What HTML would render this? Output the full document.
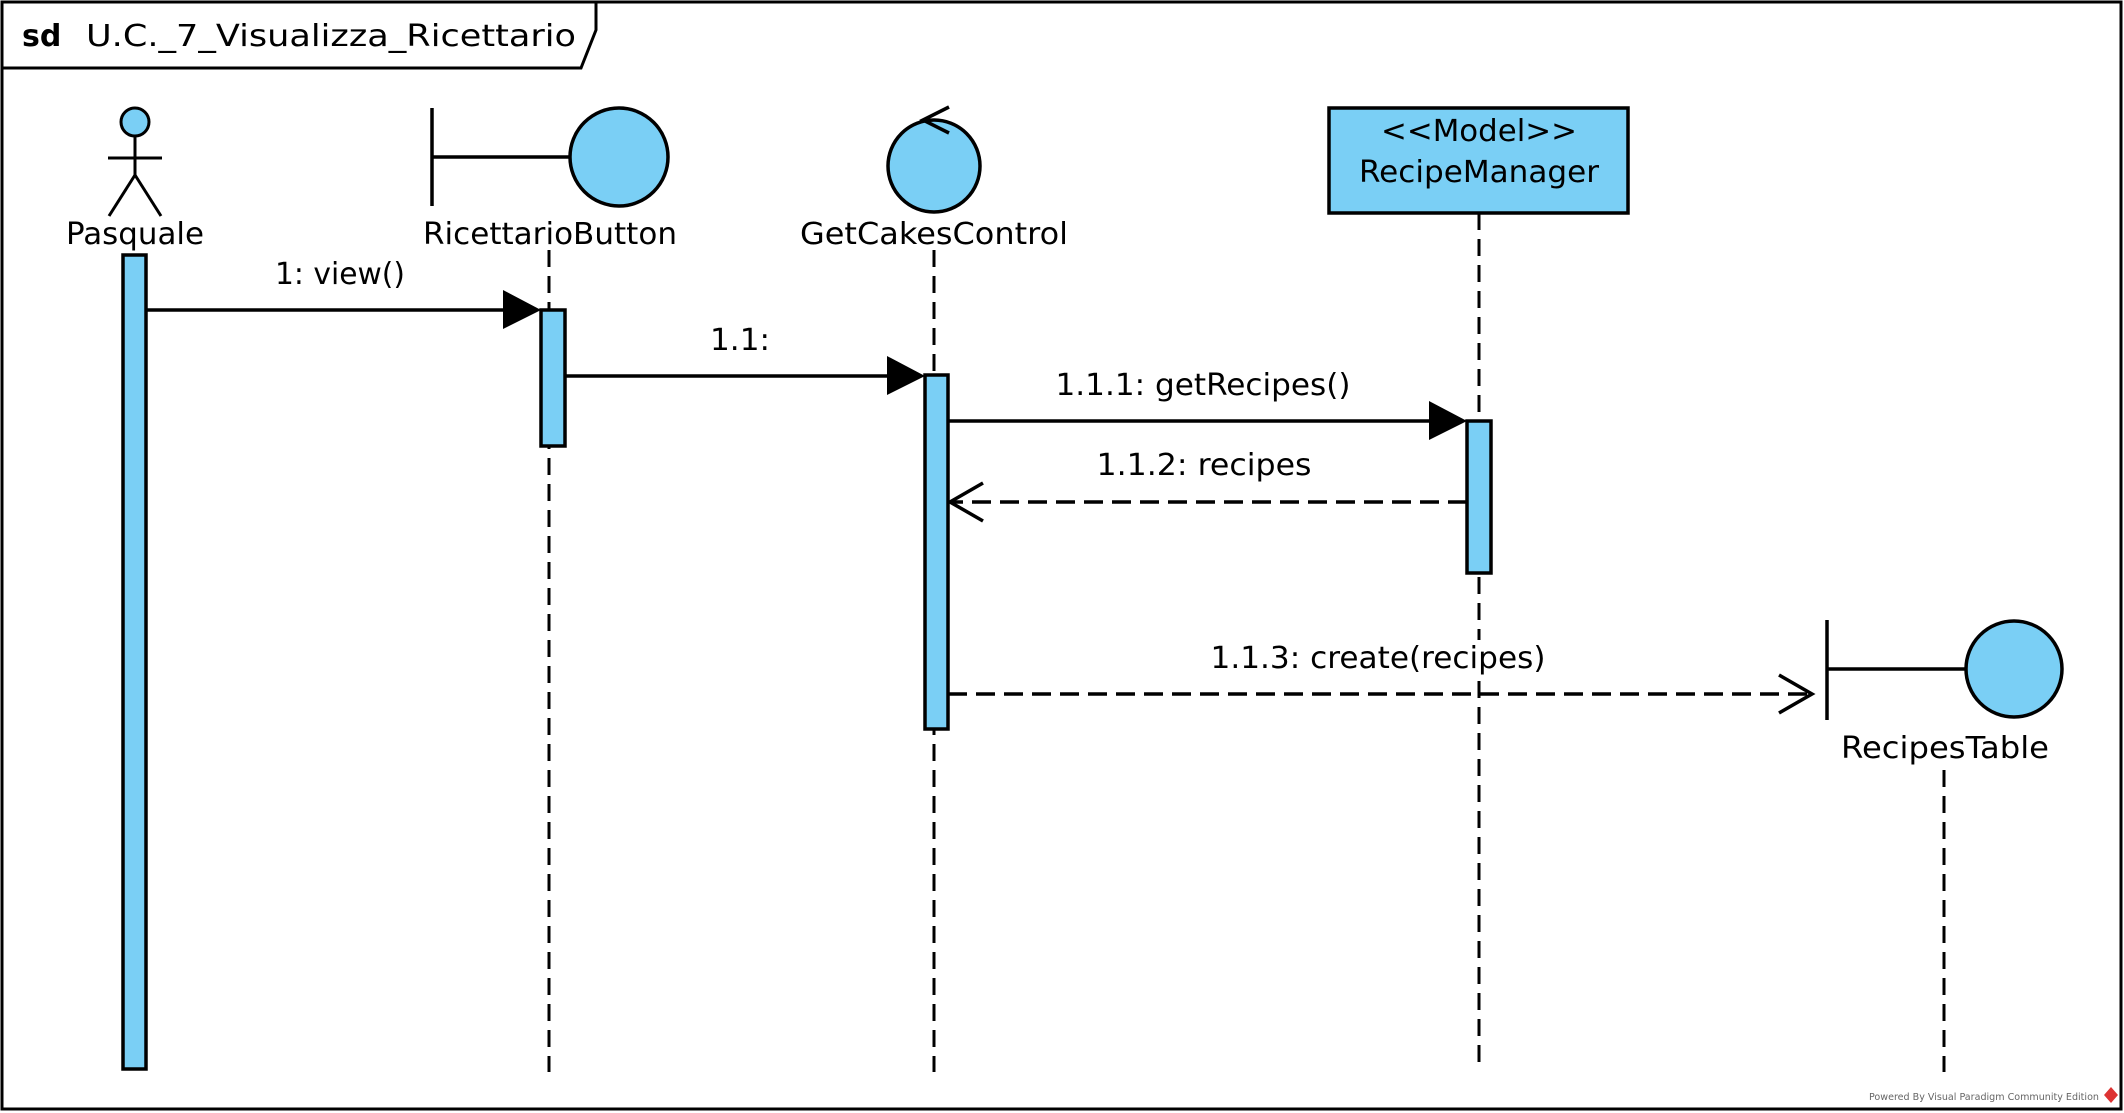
<!DOCTYPE html>
<html><head><meta charset="utf-8"><style>
html,body{margin:0;padding:0;background:#fff;}
svg{display:block;}
text{font-family:"DejaVu Sans","Liberation Sans",sans-serif;fill:#000;}
</style></head><body>
<svg width="2124" height="1113" viewBox="0 0 2124 1113" xmlns="http://www.w3.org/2000/svg">
<rect x="0" y="0" width="2124" height="1113" fill="#fff"/>
<rect x="2" y="2" width="2119" height="1107" fill="none" stroke="#000" stroke-width="3"/>
<path d="M2 68 L581 68 L596 30 L596 2" fill="none" stroke="#000" stroke-width="3"/>
<text x="22" y="46" font-size="30" font-weight="bold">sd</text>
<text x="86" y="46" font-size="30" textLength="490" lengthAdjust="spacingAndGlyphs">U.C._7_Visualizza_Ricettario</text>

<g stroke="#000" stroke-width="3" fill="none" stroke-dasharray="17,9">
<line x1="549" y1="250" x2="549" y2="1072"/>
<line x1="934" y1="250" x2="934" y2="1072"/>
<line x1="1479" y1="213" x2="1479" y2="1064"/>
<line x1="1944" y1="770" x2="1944" y2="1072"/>
</g>

<!-- actor -->
<g stroke="#000" stroke-width="3">
<ellipse cx="135" cy="122" rx="14" ry="14" fill="#7acff5"/>
<line x1="135" y1="136" x2="135" y2="175"/>
<line x1="108" y1="158" x2="162" y2="158"/>
<line x1="135" y1="175" x2="109" y2="216"/>
<line x1="135" y1="175" x2="161" y2="216"/>
</g>
<text x="135" y="244" font-size="30" text-anchor="middle" textLength="138" lengthAdjust="spacingAndGlyphs">Pasquale</text>

<!-- RicettarioButton -->
<g stroke="#000" stroke-width="3.5">
<line x1="432" y1="108" x2="432" y2="206"/>
<line x1="432" y1="157" x2="570" y2="157"/>
<circle cx="619" cy="157" r="49" fill="#7acff5"/>
</g>
<text x="550" y="244" font-size="30" text-anchor="middle" textLength="254" lengthAdjust="spacingAndGlyphs">RicettarioButton</text>

<!-- GetCakesControl -->
<g stroke="#000" stroke-width="3.5" fill="none">
<circle cx="934" cy="166" r="46" fill="#7acff5"/>
<polyline points="949,107 923,120 949,133"/>
</g>
<text x="934" y="244" font-size="30" text-anchor="middle" textLength="268" lengthAdjust="spacingAndGlyphs">GetCakesControl</text>

<!-- RecipeManager -->
<rect x="1329" y="108" width="299" height="105" fill="#7acff5" stroke="#000" stroke-width="3.5"/>
<text x="1479" y="141" font-size="30" text-anchor="middle" textLength="196" lengthAdjust="spacingAndGlyphs">&lt;&lt;Model&gt;&gt;</text>
<text x="1479" y="182" font-size="30" text-anchor="middle" textLength="240" lengthAdjust="spacingAndGlyphs">RecipeManager</text>

<!-- RecipesTable -->
<g stroke="#000" stroke-width="3.5">
<line x1="1827" y1="620" x2="1827" y2="720"/>
<line x1="1827" y1="669" x2="1966" y2="669"/>
<circle cx="2014" cy="669" r="48" fill="#7acff5"/>
</g>
<text x="1945" y="758" font-size="30" text-anchor="middle" textLength="208" lengthAdjust="spacingAndGlyphs">RecipesTable</text>

<!-- activations -->
<g fill="#7acff5" stroke="#000" stroke-width="3.5">
<rect x="123" y="255" width="23" height="814"/>
<rect x="541" y="310" width="24" height="136"/>
<rect x="925" y="375" width="23" height="354"/>
<rect x="1467" y="421" width="24" height="152"/>
</g>

<!-- messages -->
<g stroke="#000" stroke-width="3.5" fill="none">
<line x1="146" y1="310" x2="505" y2="310"/>
<line x1="565" y1="376" x2="890" y2="376"/>
<line x1="948" y1="421" x2="1432" y2="421"/>
<line x1="1467" y1="502" x2="952" y2="502" stroke-dasharray="19,9"/>
<polyline points="983,483 950,502 983,521"/>
<line x1="948" y1="694" x2="1810" y2="694" stroke-dasharray="19,9"/>
<polyline points="1779,675 1812,694 1779,713"/>
</g>
<g fill="#000">
<polygon points="503,290 541,310 503,329"/>
<polygon points="887,356 925,376 887,395"/>
<polygon points="1429,401 1467,421 1429,440"/>
</g>
<rect x="1212" y="640" width="332" height="34" fill="#fff"/>
<text x="340" y="284" font-size="30" text-anchor="middle" textLength="130" lengthAdjust="spacingAndGlyphs">1: view()</text>
<text x="740" y="350" font-size="30" text-anchor="middle" textLength="60" lengthAdjust="spacingAndGlyphs">1.1:</text>
<text x="1203" y="395" font-size="30" text-anchor="middle" textLength="295" lengthAdjust="spacingAndGlyphs">1.1.1: getRecipes()</text>
<text x="1204" y="475" font-size="30" text-anchor="middle" textLength="215" lengthAdjust="spacingAndGlyphs">1.1.2: recipes</text>
<text x="1378" y="668" font-size="30" text-anchor="middle" textLength="335" lengthAdjust="spacingAndGlyphs">1.1.3: create(recipes)</text>

<text x="1869" y="1100" font-size="10" style="fill:#666" textLength="230" lengthAdjust="spacingAndGlyphs">Powered By Visual Paradigm Community Edition</text>
<polygon points="2111,1087 2118,1095 2111,1103 2104,1095" fill="#d33"/>
</svg>
</body></html>
